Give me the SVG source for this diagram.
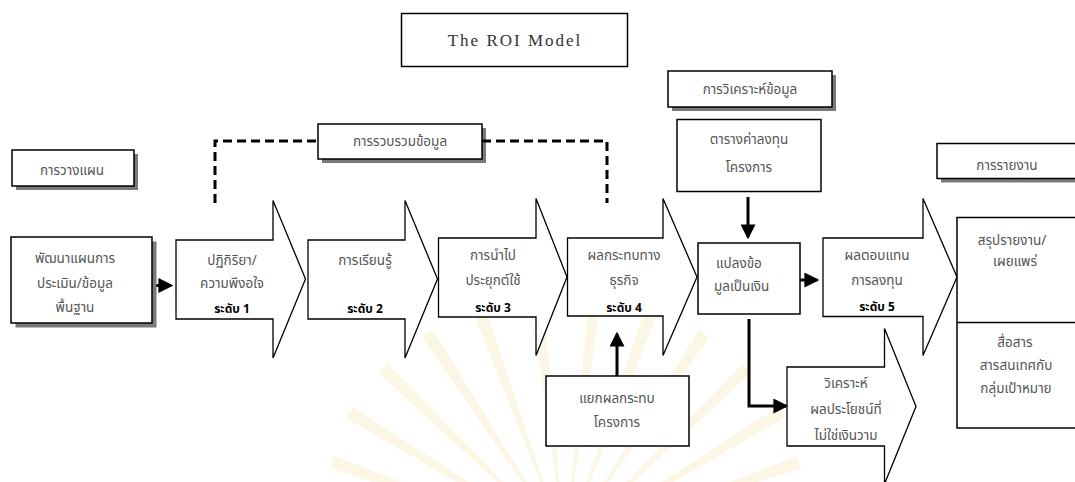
<svg xmlns="http://www.w3.org/2000/svg" width="1075" height="482" viewBox="0 0 1075 482">
  <defs>
    <style>
      .box { fill: #ffffff; stroke: #000000; stroke-width: 1.5; }
      .shadow { fill: #7a7a7a; }
      .step { fill: #ffffff; stroke: #000000; stroke-width: 1.3; stroke-linejoin: miter; }
      .th { font-family: "Noto Sans Thai", "Loma", "Garuda", "Norasi", "Noto Sans", "DejaVu Sans", sans-serif; font-size: 13.5px; fill: #555555; text-anchor: middle; }
      .lvl { font-family: "Noto Sans Thai", "Loma", "Garuda", "Noto Sans", "DejaVu Sans", sans-serif; font-size: 12px; font-weight: bold; fill: #000000; text-anchor: middle; }
      .title { font-family: "Liberation Serif", "DejaVu Serif", serif; font-size: 17px; letter-spacing: 2px; fill: #333333; text-anchor: middle; }
      .link { fill: none; stroke: #000000; stroke-width: 3; }
      .dash { fill: none; stroke: #000000; stroke-width: 3; stroke-dasharray: 9 5; }
      .ray { fill: #fcf6e4; }
    </style>
    <marker id="head" markerWidth="5" markerHeight="5" refX="4.2" refY="2.5" orient="auto" markerUnits="strokeWidth">
      <path d="M0,0 L5,2.5 L0,5 Z" fill="#000000"/>
    </marker>
  </defs>

  <rect width="1075" height="482" fill="#ffffff"/>

  <!-- faint emblem behind the lower diagram -->
  <g id="emblem">
    <path class="ray" d="M565,545 L330,468 L334,456 Z"/>
    <path class="ray" d="M565,545 L346,418 L353,407 Z"/>
    <path class="ray" d="M565,545 L379,373 L388,364 Z"/>
    <path class="ray" d="M565,545 L422,337 L433,330 Z"/>
    <path class="ray" d="M565,545 L473,312 L485,308 Z"/>
    <path class="ray" d="M565,545 L531,300 L543,299 Z"/>
    <path class="ray" d="M565,545 L589,299 L601,300 Z"/>
    <path class="ray" d="M565,545 L646,308 L658,312 Z"/>
    <path class="ray" d="M565,545 L699,330 L709,337 Z"/>
    <path class="ray" d="M565,545 L743,364 L751,373 Z"/>
    <path class="ray" d="M565,545 L778,407 L784,418 Z"/>
    <path class="ray" d="M565,545 L797,456 L801,468 Z"/>
  </g>

  <!-- title -->
  <g id="title">
    <rect class="box" x="401.5" y="13.5" width="226" height="53"/>
    <text class="title" x="515" y="46">The ROI Model</text>
  </g>

  <!-- phase labels -->
  <g id="phase-plan">
    <rect class="shadow" x="16" y="154" width="122" height="36"/>
    <rect class="box" x="12" y="150" width="122" height="36"/>
    <text class="th" x="72" y="175">การวางแผน</text>
  </g>
  <g id="phase-collect">
    <rect class="shadow" x="322" y="128" width="164" height="35"/>
    <rect class="box" x="318" y="124" width="164" height="35"/>
    <text class="th" x="400" y="146">การรวบรวมข้อมูล</text>
  </g>
  <g id="phase-analyse">
    <rect class="shadow" x="672" y="75" width="164" height="36"/>
    <rect class="box" x="668" y="71" width="164" height="36"/>
    <text class="th" x="750" y="94">การวิเคราะห์ข้อมูล</text>
  </g>
  <g id="phase-report">
    <rect class="shadow" x="941" y="147.5" width="140" height="35"/>
    <rect class="box" x="937" y="143.5" width="140" height="35"/>
    <text class="th" x="1007" y="170">การรายงาน</text>
  </g>

  <!-- connectors -->
  <g id="connectors">
    <polyline class="dash" points="215,203 215,141 318,141"/>
    <polyline class="dash" points="482,141 607,141 607,203"/>
    <line class="link" x1="152" y1="285.5" x2="171" y2="285.5" marker-end="url(#head)"/>
    <line class="link" x1="748" y1="197" x2="748" y2="237" marker-end="url(#head)"/>
    <line class="link" x1="800" y1="280" x2="817" y2="280" marker-end="url(#head)"/>
    <line class="link" x1="617" y1="376" x2="617" y2="334" marker-end="url(#head)"/>
    <polyline class="link" points="749,319 749,406 786,406" marker-end="url(#head)"/>
  </g>

  <!-- planning -->
  <g id="baseline-plan">
    <rect class="shadow" x="15.5" y="241.5" width="141" height="86"/>
    <rect class="box" x="11" y="237" width="141" height="86"/>
    <text class="th" x="75" y="263">พัฒนาแผนการ</text>
    <text class="th" x="75" y="288">ประเมิน/ข้อมูล</text>
    <text class="th" x="75" y="312">พื้นฐาน</text>
  </g>

  <!-- level 1 -->
  <g id="level-1">
    <path class="step" d="M176,240 H273 V200.5 L305.5,279 L273,358 V319 H176 Z"/>
    <text class="th" x="232" y="265">ปฏิกิริยา/</text>
    <text class="th" x="232" y="288">ความพึงอใจ</text>
    <text class="lvl" x="232" y="313">ระดับ  1</text>
  </g>

  <!-- level 2 -->
  <g id="level-2">
    <path class="step" d="M308,240 H405 V200.5 L437.5,279 L405,358 V319 H308 Z"/>
    <text class="th" x="365" y="265">การเรียนรู้</text>
    <text class="lvl" x="365" y="313">ระดับ  2</text>
  </g>

  <!-- level 3 -->
  <g id="level-3">
    <path class="step" d="M438.5,238 H536 V198.5 L567,277 L536,355.5 V317 H438.5 Z"/>
    <text class="th" x="493" y="260">การนำไป</text>
    <text class="th" x="493" y="285">ประยุกต์ใช้</text>
    <text class="lvl" x="493" y="312">ระดับ  3</text>
  </g>

  <!-- level 4 -->
  <g id="level-4">
    <path class="step" d="M567.5,238 H663 V198.5 L697,277 L663,355.5 V316 H567.5 Z"/>
    <text class="th" x="624" y="260">ผลกระทบทาง</text>
    <text class="th" x="624" y="285">ธุรกิจ</text>
    <text class="lvl" x="624" y="312">ระดับ  4</text>
  </g>

  <!-- project cost table -->
  <g id="cost-table">
    <rect class="box" x="677" y="119.5" width="144" height="72"/>
    <text class="th" x="749" y="144">ตารางค่าลงทุน</text>
    <text class="th" x="749" y="172">โครงการ</text>
  </g>

  <!-- convert to money -->
  <g id="convert">
    <rect class="box" x="698" y="243" width="102" height="71"/>
    <text class="th" x="716" y="268" style="text-anchor:start">แปลงข้อ</text>
    <text class="th" x="714" y="291" style="text-anchor:start">มูลเป็นเงิน</text>
  </g>

  <!-- isolate effects -->
  <g id="isolate">
    <rect class="box" x="546" y="376" width="143" height="70"/>
    <text class="th" x="617" y="403">แยกผลกระทบ</text>
    <text class="th" x="617" y="427">โครงการ</text>
  </g>

  <!-- level 5 -->
  <g id="level-5">
    <path class="step" d="M823,238 H923 V198.5 L957,277 L923,355.5 V316.5 H823 Z"/>
    <text class="th" x="877" y="260">ผลตอบแทน</text>
    <text class="th" x="877" y="285">การลงทุน</text>
    <text class="lvl" x="877" y="311">ระดับ  5</text>
  </g>

  <!-- intangible benefits -->
  <g id="intangibles">
    <path class="step" d="M787,367 H884.5 V328.5 L916,406.5 L884.5,484 V446 H787 Z"/>
    <text class="th" x="846" y="388">วิเคราะห์</text>
    <text class="th" x="846" y="414">ผลประโยชน์ที่</text>
    <text class="th" x="846" y="440">ไม่ใช่เงินวาม</text>
  </g>

  <!-- reporting -->
  <g id="report">
    <rect class="box" x="957" y="217.5" width="125" height="210.5"/>
    <line x1="957" y1="322.5" x2="1082" y2="322.5" stroke="#000000" stroke-width="1.5"/>
    <text class="th" x="1012" y="245">สรุปรายงาน/</text>
    <text class="th" x="1015" y="266">เผยแพร่</text>
    <text class="th" x="1015" y="347">สื่อสาร</text>
    <text class="th" x="1016" y="370">สารสนเทศกับ</text>
    <text class="th" x="1016" y="393">กลุ่มเป้าหมาย</text>
  </g>
</svg>
